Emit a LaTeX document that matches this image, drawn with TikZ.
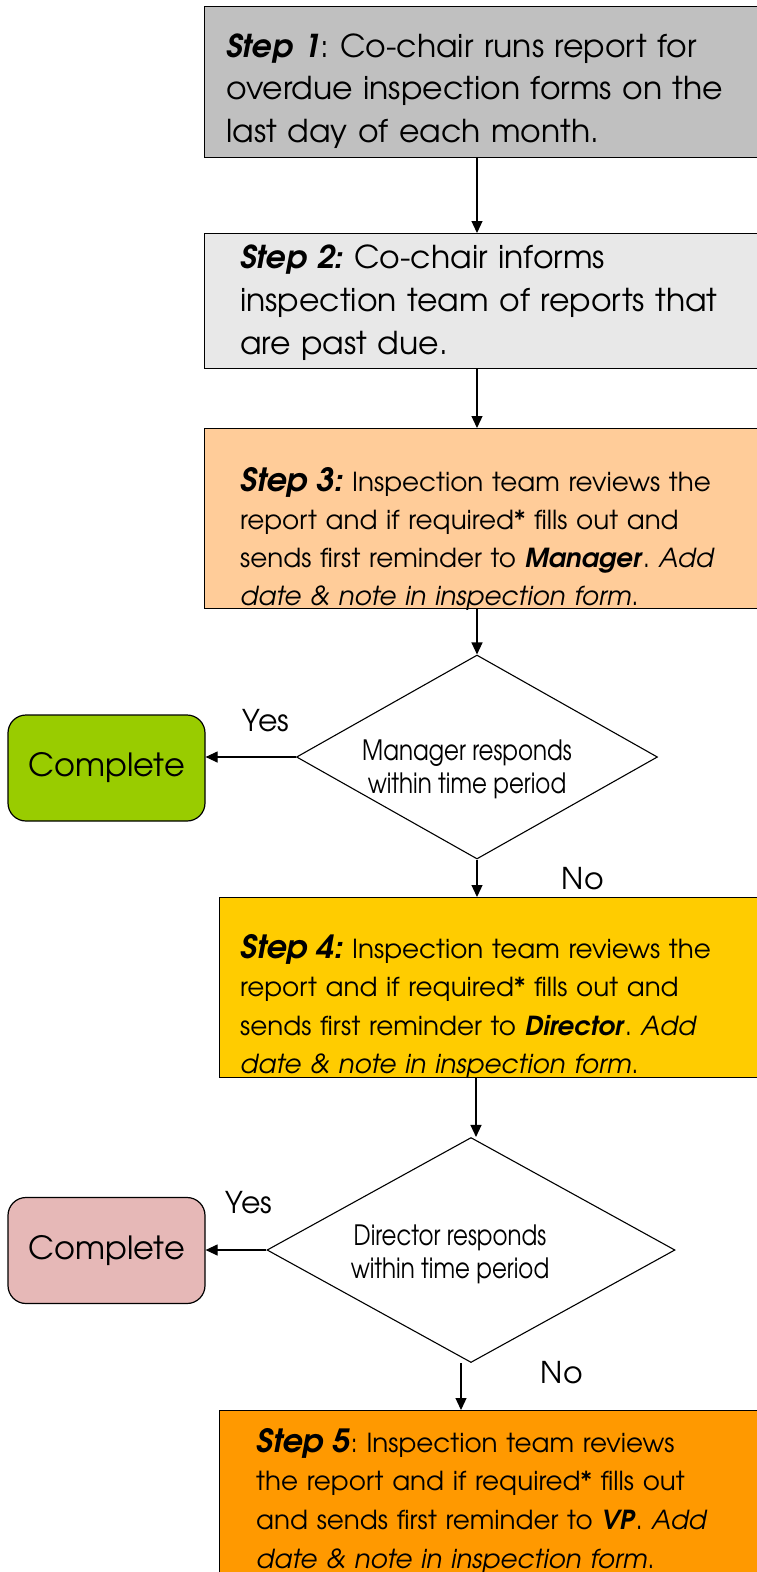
\documentclass[tikz,border=0pt]{standalone}
\usepackage{fontspec}
\setmainfont{TeX Gyre Adventor}
\usetikzlibrary{shapes.geometric,arrows.meta,calc}
\definecolor{cgrayA}{HTML}{C0C0C0}
\definecolor{cgrayB}{HTML}{E8E8E8}
\definecolor{cpeach}{HTML}{FFCC99}
\definecolor{cgreen}{HTML}{99CC00}
\definecolor{cyellow}{HTML}{FFCC00}
\definecolor{cpink}{HTML}{E6B8B7}
\definecolor{corange}{HTML}{FF9900}
\newcommand{\bi}[1]{\textbf{\textit{#1}}}
\newcommand{\narrow}[1]{\scalebox{0.82}[1]{#1}}
\frenchspacing
\begin{document}
\begin{tikzpicture}[x=1pt,y=-1pt,
  stepbox/.style={draw=black,line width=1.2pt,rectangle,inner sep=0pt,anchor=north west},
  txt/.style={inner sep=0pt,anchor=base west,align=left},
  dec/.style={draw=black,line width=1.1pt,diamond,inner sep=0pt,fill=white},
  donebox/.style={draw=black,line width=1.2pt,rectangle,rounded corners=18pt,minimum width=197pt,minimum height=106pt,font=\fontsize{32}{36}\selectfont},
  lbl/.style={inner sep=0pt,font=\fontsize{30}{34}\selectfont},
  dtxt/.style={inner sep=0pt,align=center,font=\fontsize{28}{33}\selectfont},
  arr/.style={line width=1.2pt,-{Triangle[length=12pt,width=11pt]}}]
\useasboundingbox (0,0) rectangle (757,1572);

% Step 1
\node[stepbox,fill=cgrayA,minimum width=570pt,minimum height=151pt] (b1) at (204,6) {};
\node[txt,text width=540pt,font=\fontsize{31.5}{42.5}\selectfont] (t1) at (226,57)
  {\bi{Step 1}: Co-chair runs report for\\overdue inspection forms on the\\last day of each month.};

% Step 2
\node[stepbox,fill=cgrayB,minimum width=570pt,minimum height=135pt] (b2) at (204,233) {};
\node[txt,text width=530pt,font=\fontsize{31.5}{43}\selectfont] (t2) at (240,268)
  {\bi{Step 2:} Co-chair informs\\inspection team of reports that\\are past due.};

% Step 3
\node[stepbox,fill=cpeach,minimum width=570pt,minimum height=180pt] (b3) at (204,428) {};
\node[txt,text width=530pt,font=\fontsize{26.2}{38}\selectfont] (t3) at (240,491)
  {{\fontsize{32}{38}\selectfont\bi{Step 3:}} Inspection team reviews the\\report and if required* fills out and\\sends first reminder to \bi{Manager}. \textit{Add}\\\textit{date \& note in inspection form}.};

% Decision 1
\node[dec,minimum width=361pt,minimum height=204pt] (d1) at (477,757) {};
\node[dtxt] (dt1) at (467,769) {\narrow{Manager responds}\\\narrow{within time period}};
\node[donebox,fill=cgreen] (c1) at (106.5,768) {Complete};

% Step 4
\node[stepbox,fill=cyellow,minimum width=560pt,minimum height=180pt] (b4) at (219,897) {};
\node[txt,text width=530pt,font=\fontsize{26.2}{38.5}\selectfont] (t4) at (240,958)
  {{\fontsize{32}{38.5}\selectfont\bi{Step 4:}} Inspection team reviews the\\report and if required* fills out and\\sends first reminder to \bi{Director}. \textit{Add}\\\textit{date \& note in inspection form}.};

% Decision 2
\node[dec,minimum width=408pt,minimum height=225pt] (d2) at (471,1250) {};
\node[dtxt] (dt2) at (450,1254) {\narrow{Director responds}\\\narrow{within time period}};
\node[donebox,fill=cpink] (c2) at (106.5,1250.5) {Complete};

% Step 5
\node[stepbox,fill=corange,minimum width=560pt,minimum height=200pt] (b5) at (219,1410) {};
\node[txt,text width=510pt,font=\fontsize{26.2}{38.7}\selectfont] (t5) at (256,1452)
  {{\fontsize{32}{38.7}\selectfont\bi{Step 5}}: Inspection team reviews\\the report and if required* fills out\\and sends first reminder to \bi{VP}. \textit{Add}\\\textit{date \& note in inspection form}.};

% connectors
\coordinate (ax) at (477,0);
\draw[arr] (b1.south -| ax) -- (b2.north -| ax);
\draw[arr] (b2.south -| ax) -- (b3.north -| ax);
\draw[arr] (b3.south -| ax) -- (d1.north);
\draw[arr] (d1.west) -- (d1.west -| c1.east);
\draw[arr] (d1.south) -- (b4.north -| d1.south);
\coordinate (ax2) at (476,0);
\draw[arr] (b4.south -| ax2) -- (d2.north -| ax2);
\draw[arr] (d2.west) -- (d2.west -| c2.east);
\coordinate (nx) at (461,1363);
\draw[arr] (nx) -- (b5.north -| nx);

% labels
\node[lbl] (y1) at (266,721) {Yes};
\node[lbl] (n1) at (583,879) {No};
\node[lbl] (y2) at (249,1203) {Yes};
\node[lbl] (n2) at (562,1373) {No};
\end{tikzpicture}
\end{document}
